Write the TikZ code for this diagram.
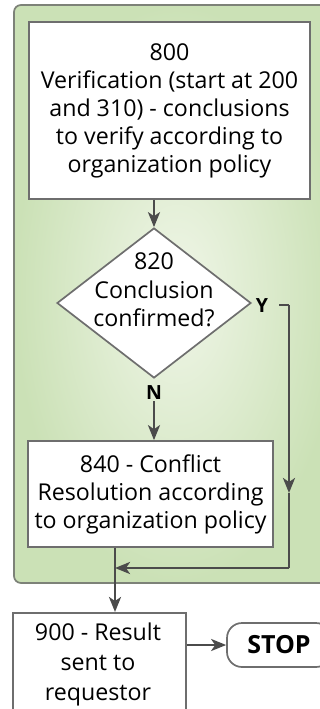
\documentclass[tikz,border=0pt]{standalone}
\usepackage{fontspec}
\setmainfont{Open Sans}
\usetikzlibrary{shapes.geometric,arrows.meta}
\definecolor{linegray}{RGB}{75,75,75}
\definecolor{boxgray}{RGB}{110,110,110}
\definecolor{panelin}{RGB}{240,246,232}
\definecolor{panelout}{RGB}{203,225,182}
\definecolor{panelborder}{RGB}{125,130,120}
\tikzset{
  procbox/.style={draw=boxgray, line width=1.7pt, fill=white, inner sep=0pt, align=center,
     font=\fontsize{23.2}{28}\selectfont},
  decbox/.style={draw=boxgray, line width=1.7pt, fill=white, diamond, inner sep=0pt,
     minimum width=194pt, minimum height=150pt},
  plaintext/.style={align=center, inner sep=0pt, font=\fontsize{23.2}{28.5}\selectfont},
  yn/.style={inner sep=1pt, font=\fontsize{19.5}{22}\selectfont\bfseries},
  flow/.style={draw=linegray, line width=2.5pt},
  tip/.style={-{Stealth[length=15pt,width=12pt,inset=4pt]}},
}
\begin{document}
\begin{tikzpicture}[x=1pt,y=-1pt]
\useasboundingbox (0,0) rectangle (320,709);
\clip (0,0) rectangle (320,709);
% panel
\shade[rounded corners=7pt, inner color=panelin, outer color=panelout] (14,5) rectangle (340,583);
\draw[panelborder, line width=1.7pt, rounded corners=7pt] (14,5) rectangle (340,583);

\node[procbox, minimum width=281pt, minimum height=177pt] (b800) at (169.5,110.5)
  {800\\Verification (start at 200\\and 310) - conclusions\\to verify according to\\organization policy};

\node[decbox] (d820) at (154,303) {};
\node[plaintext] (t820) at (154,290) {820\\Conclusion\\confirmed?};

\node[yn] (Y) at (262,306) {Y};
\node[yn] (N) at (154,393) {N};

\node[procbox, minimum width=245pt, minimum height=106pt] (b840) at (150.5,494)
  {840 - Conflict\\Resolution according\\to organization policy};

\node[procbox, minimum width=173pt, minimum height=130pt, anchor=north] (b900) at (99.5,612) {};
\node[plaintext, font=\fontsize{23.2}{30}\selectfont] (t900) at (98,664) {900 - Result\\sent to\\requestor};

\node[draw=boxgray, line width=1.7pt, fill=white, rounded corners=15pt, minimum width=104pt,
  minimum height=44pt, inner sep=0pt, font=\fontsize{25}{28}\selectfont\bfseries] (stop) at (279,645) {STOP};

\coordinate (yc) at (289,305);
\coordinate (ymid) at (289,493);
\coordinate (yb) at (289,568);
\coordinate (join) at (115,568);

% connectors
\draw[flow, tip] (d820.north |- b800.south) -- (d820.north);
\draw[flow, tip] (N.south) -- (N.south |- b840.north);
\draw[flow] (yc -| Y.east) ++(10,0) -- (yc);
\draw[flow, tip] (yc) -- (ymid);
\draw[flow] (ymid) -- (yb);
\draw[flow, tip] (yb) -- (join);
\draw[flow, tip] (join |- b840.south) -- (join |- b900.north);
\draw[flow, tip] (b900.east |- stop.west) -- (stop.west);
\end{tikzpicture}
\end{document}
